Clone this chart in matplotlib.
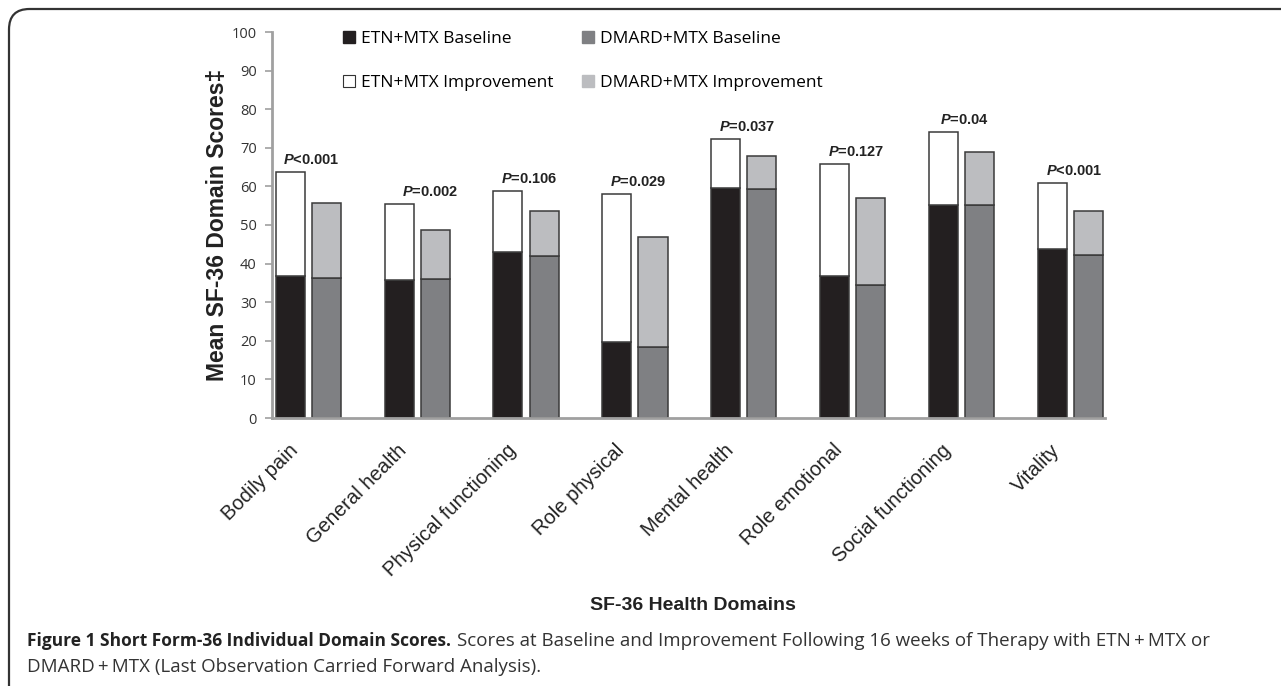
import numpy as np
import matplotlib.pyplot as plt
from matplotlib.patches import Patch, FancyBboxPatch
from matplotlib.transforms import ScaledTranslation

plt.rcParams['mathtext.fontset'] = 'custom'
plt.rcParams['mathtext.bfit'] = 'Liberation Sans:italic:bold'
plt.rcParams['mathtext.it'] = 'Liberation Sans:italic'

# SF-36 domain scores
domains = ["Bodily pain", "General health", "Physical functioning", "Role physical",
           "Mental health", "Role emotional", "Social functioning", "Vitality"]
etn_base = [36.7, 35.7, 42.9, 19.6, 59.6, 36.9, 55.1, 43.8]
etn_total = [63.7, 55.4, 58.8, 58.1, 72.2, 65.7, 74.2, 61.0]
dmard_base = [36.2, 36.1, 41.9, 18.4, 59.2, 34.5, 55.3, 42.3]
dmard_total = [55.8, 48.6, 53.5, 46.9, 68.0, 56.9, 68.8, 53.6]
p_values = ["<0.001", "=0.002", "=0.106", "=0.029", "=0.037", "=0.127", "=0.04", "<0.001"]

etn_imp = np.array(etn_total) - np.array(etn_base)
dmard_imp = np.array(dmard_total) - np.array(dmard_base)

c_etn_base = "#231f20"
c_dmard_base = "#7f8083"
c_etn_imp = "#ffffff"
c_dmard_imp = "#bcbdc0"
edge = "#3a3a3a"

W, H = 1281, 686
fig = plt.figure(figsize=(W / 100, H / 100), dpi=100)

# rounded frame around the figure panel (open at right and bottom)
frame = FancyBboxPatch((9 / W, -0.2), 1.2, 1.2 - 9 / H,
                       boxstyle="round,pad=0,rounding_size=0.016",
                       transform=fig.transFigure, fill=False,
                       edgecolor="#333333", linewidth=1.6, mutation_aspect=W / H)
fig.patches.append(frame)

ax = fig.add_axes([272 / W, 1 - 418 / H, (1105 - 272) / W, (418 - 32) / H])

x = np.arange(len(domains))
bw = 0.267
off = 0.166
kw = dict(width=bw, edgecolor=edge, linewidth=1.1)
ax.bar(x - off, etn_base, color=c_etn_base, **kw)
ax.bar(x - off, etn_imp, bottom=etn_base, color=c_etn_imp, **kw)
ax.bar(x + off, dmard_base, color=c_dmard_base, **kw)
ax.bar(x + off, dmard_imp, bottom=dmard_base, color=c_dmard_imp, **kw)

for i, p in enumerate(p_values):
    dx = 0.12 if i == 1 else 0.03
    ax.text(i + dx, etn_total[i] + 1.3, r"$\mathbfit{P}$" + p, ha="center", va="bottom",
            fontsize=10.5, fontweight="bold", family="Liberation Sans", color="#222222")

ax.set_xlim(-0.333, 7 + off + bw / 2 + 0.018)
ax.set_ylim(0, 100)
ax.set_yticks(np.arange(0, 101, 10))
ax.set_xticks(x)
ax.set_xticklabels(domains, rotation=45, ha="right", rotation_mode="anchor",
                   fontsize=14.5, family="Liberation Sans", color="#222222")
ax.tick_params(axis="x", length=0, pad=14)
shift = ScaledTranslation(-0.2, -0.03, fig.dpi_scale_trans)
for t in ax.get_xticklabels():
    t.set_transform(t.get_transform() + shift)
ax.tick_params(axis="y", length=5, width=1.2, color="#a0a0a0", labelsize=10.5,
               labelcolor="#333333", pad=6)
for t in ax.get_yticklabels():
    t.set_family("Open Sans")
for s in ["top", "right"]:
    ax.spines[s].set_visible(False)
for s in ["left", "bottom"]:
    ax.spines[s].set_color("#a0a0a0")
    ax.spines[s].set_linewidth(2)

ax.set_ylabel("Mean SF-36 Domain Scores\u2021", fontsize=16.5, fontweight="bold",
              family="Liberation Sans", labelpad=2, color="#222222")
fig.text(693 / W, 1 - 605 / H, "SF-36 Health Domains", ha="center", va="center",
         fontsize=14, fontweight="bold", family="Liberation Sans", color="#222222")

# legend reads row-wise: baselines on top, improvements below
handles = [Patch(facecolor=c_etn_base, edgecolor=c_etn_base),
           Patch(facecolor=c_etn_imp, edgecolor="#333333", linewidth=0.8),
           Patch(facecolor=c_dmard_base, edgecolor=c_dmard_base),
           Patch(facecolor=c_dmard_imp, edgecolor=c_dmard_imp)]
labels = ["ETN+MTX Baseline", "ETN+MTX Improvement",
          "DMARD+MTX Baseline", "DMARD+MTX Improvement"]
fig.legend(handles, labels, ncol=2, loc="upper left",
           bbox_to_anchor=(343 / W, 1 - 31 / H), frameon=False,
           prop={"family": "Open Sans", "size": 12.5},
           handlelength=0.7, handleheight=0.7, handletextpad=0.35,
           labelspacing=1.62, columnspacing=1.6, borderpad=0, borderaxespad=0)

# caption: bold lead-in followed by regular text
cap_y1 = 1 - 641 / H
cap_y2 = 1 - 667 / H
t1 = fig.text(27 / W, cap_y1, "Figure 1 Short Form-36 Individual Domain Scores.",
              fontsize=12.5, fontweight="bold", family="Open Sans", va="center",
              color="#222222")
fig.canvas.draw()
bb = t1.get_window_extent()
fig.text(bb.x1 / W + 6 / W, cap_y1,
         "Scores at Baseline and Improvement Following 16 weeks of Therapy with ETN\u2009+\u2009MTX or",
         fontsize=13.5, family="Open Sans", va="center", color="#333333")
fig.text(27 / W, cap_y2, "DMARD\u2009+\u2009MTX (Last Observation Carried Forward Analysis).",
         fontsize=13.5, family="Open Sans", va="center", color="#333333")

fig.savefig("out.png", dpi=100)
